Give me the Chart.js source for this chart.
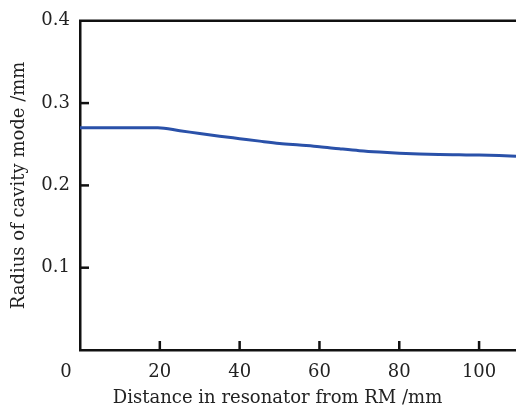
<!DOCTYPE html>
<html>
<head>
<meta charset="utf-8">
<script src="https://cdn.jsdelivr.net/npm/chart.js@4"></script>
<style>
    html, body { margin: 0; padding: 0; background: #fff; }
    canvas { display: block; }
</style>
</head>
<body>
<canvas id="chartRadio" width="516" height="410"></canvas>
<script>
// datos
const distancia = [0, 10, 19.5, 25, 30, 35, 40, 45, 50, 55, 60, 65, 70, 75, 80, 85, 90, 95, 100, 105, 109.25];
const radio = [0.270, 0.270, 0.270, 0.2665, 0.263, 0.2598, 0.2568, 0.2538, 0.251, 0.249, 0.247, 0.2445, 0.2422, 0.2405, 0.2392, 0.2382, 0.2376, 0.2372, 0.2368, 0.2362, 0.2355];
const etiquetasX = [0, 20, 40, 60, 80, 100];
const marcasX = [20, 40, 60, 80, 100];
const marcasY = [0.1, 0.2, 0.3];
const tituloX = 'Distance in resonator from RM /mm';
const tituloY = 'Radius of cavity mode /mm';

document.addEventListener("DOMContentLoaded", () => {
    const canvas = document.getElementById('chartRadio');
    const ctx = canvas.getContext('2d');
    const fuente = { family: '"DejaVu Serif", serif', size: 18 };
    const fuenteCss = '18px "DejaVu Serif", serif';

    // marcas hacia adentro, borde superior, "0" y titulo del eje x
    const marcasInternas = {
        id: 'marcasInternas',
        afterDraw(chart) {
            const { ctx, chartArea, scales } = chart;
            ctx.save();
            ctx.strokeStyle = '#111';
            ctx.lineWidth = 2.5;
            marcasX.forEach(v => {
                const px = scales.x.getPixelForValue(v);
                ctx.beginPath();
                ctx.moveTo(px, chartArea.bottom);
                ctx.lineTo(px, chartArea.bottom - 9);
                ctx.stroke();
            });
            marcasY.forEach(v => {
                const py = scales.y.getPixelForValue(v);
                ctx.beginPath();
                ctx.moveTo(chartArea.left, py);
                ctx.lineTo(chartArea.left + 9, py);
                ctx.stroke();
            });
            ctx.beginPath();
            ctx.moveTo(chartArea.left - 1, chartArea.top);
            ctx.lineTo(chartArea.right, chartArea.top);
            ctx.stroke();

            ctx.fillStyle = '#222';
            ctx.font = fuenteCss;
            ctx.textAlign = 'center';
            ctx.textBaseline = 'middle';
            ctx.fillText('0', scales.x.getPixelForValue(0) - 14, chartArea.bottom + 22);
            ctx.fillText(tituloX, scales.x.getPixelForValue(49.5), chartArea.bottom + 48);
            ctx.restore();
        }
    };

    new Chart(ctx, {
        type: 'line',
        data: {
            datasets: [{
                data: distancia.map((d, i) => ({ x: d, y: radio[i] })),
                borderColor: '#2a51a9',
                borderWidth: 3,
                pointRadius: 0,
                cubicInterpolationMode: 'monotone',
                fill: false
            }]
        },
        options: {
            responsive: false,
            animation: false,
            layout: { padding: { top: 17, right: 0, left: 0, bottom: 0 } },
            plugins: {
                legend: { display: false },
                tooltip: { enabled: false }
            },
            scales: {
                x: {
                    type: 'linear',
                    min: 0,
                    max: 109.25,
                    afterFit(scale) { scale.height = 60; },
                    afterBuildTicks(scale) { scale.ticks = etiquetasX.map(v => ({ value: v })); },
                    border: { color: '#111', width: 2.5 },
                    grid: { display: false, drawTicks: false },
                    ticks: {
                        padding: 12,
                        color: '#222',
                        font: fuente,
                        maxRotation: 0,
                        callback: v => (v === 0 ? '' : v)
                    },
                    title: { display: false }
                },
                y: {
                    min: 0,
                    max: 0.4,
                    afterFit(scale) { scale.width = 80; },
                    border: { color: '#111', width: 2.5 },
                    grid: { display: false, drawTicks: false },
                    ticks: {
                        stepSize: 0.1,
                        padding: 10,
                        color: '#222',
                        font: fuente,
                        callback: v => (v === 0 ? '' : v.toFixed(1))
                    },
                    title: {
                        display: true,
                        text: tituloY,
                        color: '#222',
                        font: fuente,
                        padding: { top: 9, bottom: 4 }
                    }
                }
            }
        },
        plugins: [marcasInternas]
    });
});
</script>
</body>
</html>
